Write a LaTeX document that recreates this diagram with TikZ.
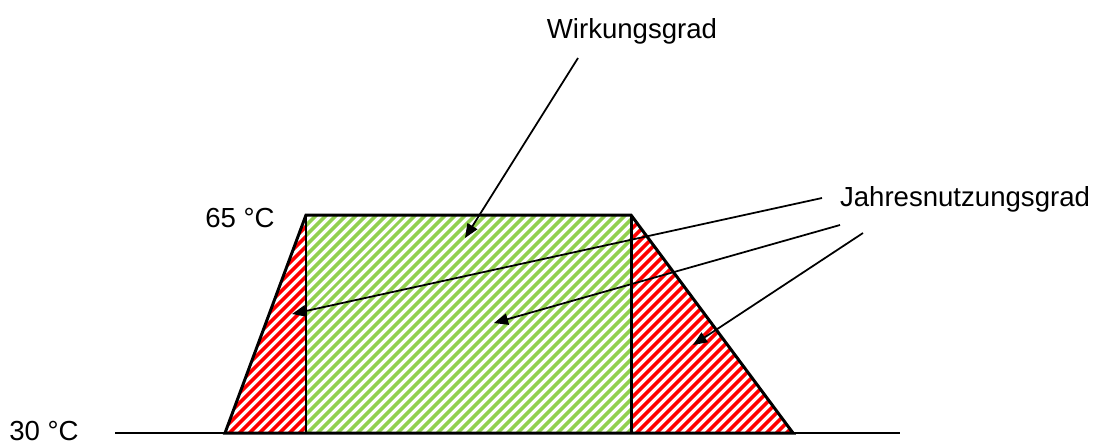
\documentclass[tikz,border=0pt]{standalone}
\usepackage{fontspec}
\setmainfont{Liberation Sans}
\usetikzlibrary{arrows.meta, patterns.meta}
\definecolor{hatchred}{RGB}{255,0,0}
\definecolor{hatchgreen}{RGB}{146,208,80}

\begin{document}
\begin{tikzpicture}[
    x=0.02cm, y=-0.02cm,
    textlabel/.style={inner sep=0pt, font=\fontsize{15.7}{19}\selectfont},
    redhatch/.style={pattern={Lines[angle=45, distance=4pt, line width=2.1pt]}, pattern color=hatchred},
    greenhatch/.style={pattern={Lines[angle=45, distance=4pt, line width=2.1pt]}, pattern color=hatchgreen},
    outline/.style={line width=1.7pt, line join=miter},
    arrow/.style={-{Triangle[length=8pt, width=6.5pt]}, line width=1pt}
]

\fill[white] (0,0) rectangle (1094,444);
\useasboundingbox (0,0) rectangle (1094,444);

% corners of the areas
\coordinate (bl) at (225,433);
\coordinate (tl) at (306,215);
\coordinate (ml) at (306,433);
\coordinate (tr) at (631,215);
\coordinate (mr) at (631,433);
\coordinate (br) at (793,433);

% hatched areas
\fill[redhatch] (bl) -- (tl) -- (ml) -- cycle;
\fill[greenhatch] (tl) -- (tr) -- (mr) -- (ml) -- cycle;
\fill[redhatch] (tr) -- (br) -- (mr) -- cycle;

% base line and outline
\draw[line width=1.1pt] (115,433) -- (900,433);
\draw[outline] (bl) -- (tl) -- (tr) -- (br) -- cycle;
\draw[outline] (tl) -- (ml);
\draw[outline] (tr) -- (mr);

% labels
\node[textlabel, anchor=west] (t30) at (9,431) {30 °C};
\node[textlabel] (t65) at (240,218) {65 °C};
\node[textlabel] (wirk) at (632,31) {Wirkungsgrad};
\node[textlabel] (jahr) at (965,199) {Jahresnutzungsgrad};

% arrow ends
\coordinate (w-from) at (578,58);
\coordinate (w-to) at (465,238);
\coordinate (j1-from) at (822,198);
\coordinate (j1-to) at (292,314);
\coordinate (j2-from) at (840,225);
\coordinate (j2-to) at (494,323);
\coordinate (j3-from) at (863,233);
\coordinate (j3-to) at (693,345);

\draw[arrow] (w-from) -- (w-to);
\draw[arrow] (j1-from) -- (j1-to);
\draw[arrow] (j2-from) -- (j2-to);
\draw[arrow] (j3-from) -- (j3-to);

\end{tikzpicture}
\end{document}
